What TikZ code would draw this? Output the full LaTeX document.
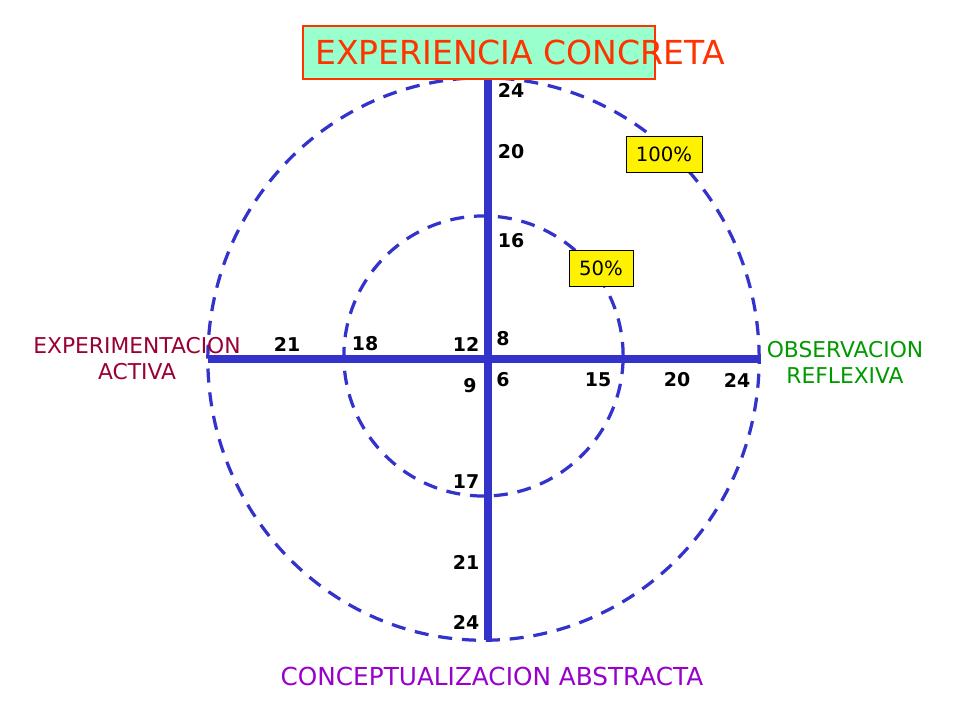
\documentclass[tikz,border=0pt]{standalone}
\usepackage{fontspec}
\setmainfont{DejaVu Sans}
\usetikzlibrary{positioning}
\definecolor{axisblue}{RGB}{51,51,204}
\definecolor{concreta}{RGB}{255,51,0}
\definecolor{mint}{RGB}{153,255,204}
\definecolor{activa}{RGB}{153,0,51}
\definecolor{reflexiva}{RGB}{0,153,0}
\definecolor{abstracta}{RGB}{153,0,204}
\tikzset{
  ring/.style={axisblue, line width=2.3pt, dash pattern=on 10pt off 7pt},
  axisline/.style={axisblue, line width=5pt},
  num/.style={inner sep=0pt, font=\bfseries\fontsize{13.5}{16}\selectfont},
  pct/.style={draw=black, fill=yellow, line width=0.6pt, inner sep=0pt,
    minimum height=0.9cm, font=\fontsize{14}{16}\selectfont},
  side/.style={align=center, inner sep=0pt, font=\fontsize{15.5}{18.5}\selectfont}
}

\begin{document}
\begin{tikzpicture}[x=0.025cm, y=-0.025cm]
  \useasboundingbox (0,0) rectangle (960,720);
  \draw[ring] (483.5,359) ellipse [x radius=6.89cm, y radius=7.03cm];
  \draw[ring] (483.5,356) ellipse [x radius=3.49cm, y radius=3.5cm];

  \coordinate (top) at (488,79);
  \coordinate (bottom) at (488,640);
  \coordinate (left) at (208,359);
  \coordinate (right) at (760,359);
  \draw[axisline] (top) -- (bottom);
  \draw[axisline] (left) -- (right);

  \node[draw=concreta, line width=1.5pt, fill=mint, minimum width=8.8cm,
    minimum height=1.325cm, inner sep=0pt] (titlebox) at (479,52.5) {};
  \node[concreta, inner sep=0pt, font=\fontsize{23.5}{28}\selectfont] (title) at (520,52) {EXPERIENCIA CONCRETA};

  \node[side, activa] (activa) at (137,359) {EXPERIMENTACION\\ACTIVA};
  \node[side, reflexiva] (reflexiva) at (845,362) {OBSERVACION\\REFLEXIVA};
  \node[abstracta, inner sep=0pt, font=\fontsize{17.6}{21}\selectfont] (abstracta) at (492,676) {CONCEPTUALIZACION ABSTRACTA};

  \node[pct, minimum width=1.9cm] (full) at (664,154) {100\%};
  \node[pct, minimum width=1.6cm] (half) at (601,268) {50\%};

  \node[num] (t24) at (511,90) {24};
  \node[num] (t20) at (511,152) {20};
  \node[num] (t16) at (511,241) {16};
  \node[num] (t8) at (503,339) {8};
  \node[num] (r6) at (503,380) {6};
  \node[num] (r15) at (598,380) {15};
  \node[num] (r20) at (677,380) {20};
  \node[num] (r24) at (737,380) {24};
  \node[num] (l21) at (287,344) {21};
  \node[num] (l18) at (365,344) {18};
  \node[num] (l12) at (466,344) {12};
  \node[num] (l9) at (470,386) {9};
  \node[num] (b17) at (466,482) {17};
  \node[num] (b21) at (466,562) {21};
  \node[num] (b24) at (466,622) {24};
\end{tikzpicture}
\end{document}
